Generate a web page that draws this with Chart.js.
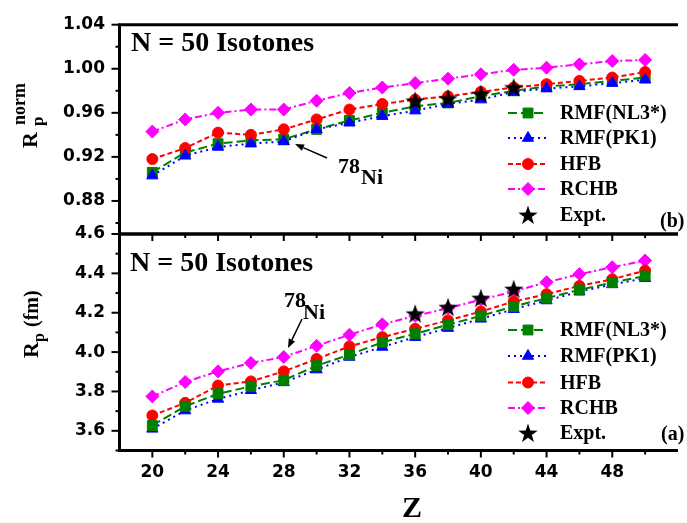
<!DOCTYPE html>
<html>
<head>
<meta charset="utf-8">
<script src="https://cdn.jsdelivr.net/npm/chart.js@4.4.1/dist/chart.umd.min.js"></script>
<style>
html,body{margin:0;padding:0;background:#fff;}
#wrap{position:relative;width:687px;height:523px;overflow:hidden;}
canvas{position:absolute;left:0;top:0;}
</style>
</head>
<body>
<div id="wrap">
<canvas id="cBottom" width="687" height="523"></canvas>
<canvas id="cTop" width="687" height="523"></canvas>
</div>
<script>
// ---------------- data ----------------
const Z = [20,22,24,26,28,30,32,34,36,38,40,42,44,46,48,50];
const Z_EXPT = [36,38,40,42];
const LABELS = ['RMF(NL3*)','RMF(PK1)','HFB','RCHB','Expt.'];

// (b) normalized proton radius
const NORM_NL3  = [0.906,0.924,0.932,0.935,0.936,0.945,0.953,0.960,0.966,0.969,0.975,0.980,0.984,0.986,0.989,0.992];
const NORM_PK1  = [0.903,0.921,0.929,0.932,0.934,0.945,0.951,0.957,0.962,0.968,0.972,0.979,0.982,0.984,0.987,0.990];
const NORM_HFB  = [0.918,0.928,0.942,0.940,0.945,0.954,0.963,0.968,0.972,0.975,0.979,0.983,0.986,0.989,0.992,0.997];
const NORM_RCHB = [0.943,0.954,0.960,0.963,0.963,0.971,0.978,0.983,0.987,0.991,0.995,0.999,1.001,1.004,1.007,1.008];
const NORM_EXPT = [0.971,0.973,0.977,0.983];

// (a) proton radius (fm)
const RP_NL3  = [3.627,3.725,3.788,3.826,3.857,3.931,3.987,4.050,4.093,4.139,4.184,4.232,4.274,4.316,4.353,4.387];
const RP_PK1  = [3.610,3.703,3.762,3.806,3.846,3.911,3.975,4.026,4.076,4.122,4.169,4.218,4.262,4.307,4.344,4.375];
const RP_HFB  = [3.678,3.742,3.830,3.851,3.902,3.965,4.029,4.076,4.118,4.161,4.206,4.257,4.294,4.336,4.370,4.414];
const RP_RCHB = [3.775,3.848,3.902,3.945,3.975,4.032,4.088,4.141,4.184,4.223,4.266,4.308,4.355,4.396,4.431,4.465];
const RP_EXPT = [4.195,4.228,4.274,4.320];

// ticks
const X_MAJOR = [20,24,28,32,36,40,44,48];
const X_MINOR = [22,26,30,34,38,42,46,50];
const YT_MAJOR = [0.88,0.92,0.96,1.00,1.04];
const YT_MINOR = [0.86,0.90,0.94,0.98,1.02];
const YB_MAJOR = [3.6,3.8,4.0,4.2,4.4,4.6];
const YB_MINOR = [3.5,3.7,3.9,4.1,4.3,4.5];

// ---------------- styles ----------------
const star = document.createElement('canvas');
star.width = 22; star.height = 22;
(function(){
  const c = star.getContext('2d');
  const R = 10.2, r = 4.0, cx = 11, cy = 11.8;
  c.beginPath();
  for (let i = 0; i < 10; i++) {
    const a = -Math.PI/2 + i*Math.PI/5;
    const rr = i % 2 ? r : R;
    c.lineTo(cx + rr*Math.cos(a), cy + rr*Math.sin(a));
  }
  c.closePath(); c.fillStyle = '#000'; c.fill();
})();

const STY = [
  {color:'#008000', dash:[9,4],     ps:'rect',     rad:7},
  {color:'#0000ff', dash:[2,4],     ps:'triangle', rad:6.5},
  {color:'#ff0000', dash:[5,3],     ps:'circle',   rad:5.5},
  {color:'#ff00ff', dash:[7,3,2,3], ps:'rectRot',  rad:6.5},
  {color:'#000000', dash:[],        ps:star,       rad:10}
];

function buildDatasets(series, expt, orders) {
  const ds = series.map((vals, i) => ({
    label: LABELS[i],
    data: Z.map((z, k) => ({x: z, y: vals[k]})),
    borderColor: STY[i].color, backgroundColor: STY[i].color,
    borderWidth: 2, borderDash: STY[i].dash, tension: 0,
    pointStyle: STY[i].ps, pointRadius: STY[i].rad,
    pointBackgroundColor: STY[i].color, pointBorderColor: STY[i].color, pointBorderWidth: 1,
    order: orders[i]
  }));
  ds.push({
    label: LABELS[4],
    data: Z_EXPT.map((z, k) => ({x: z, y: expt[k]})),
    showLine: false, pointStyle: star, pointRadius: 10,
    borderColor: '#000', backgroundColor: '#000', order: 0
  });
  return ds;
}

const SERIF = '"Liberation Serif", "Times New Roman", serif';
const SANS = '"DejaVu Sans", sans-serif';

function seg(ctx, x1, y1, x2, y2) { ctx.beginPath(); ctx.moveTo(x1, y1); ctx.lineTo(x2, y2); ctx.stroke(); }

function arrow(ctx, x1, y1, x2, y2) {
  ctx.save();
  ctx.strokeStyle = '#000'; ctx.fillStyle = '#000'; ctx.lineWidth = 1.5;
  const ang = Math.atan2(y2 - y1, x2 - x1);
  const L = 9, W = 3.5;
  const bx = x2 - L*Math.cos(ang), by = y2 - L*Math.sin(ang);
  seg(ctx, x1, y1, bx, by);
  ctx.beginPath();
  ctx.moveTo(x2, y2);
  ctx.lineTo(bx + W*Math.sin(ang), by - W*Math.cos(ang));
  ctx.lineTo(bx - W*Math.sin(ang), by + W*Math.cos(ang));
  ctx.closePath(); ctx.fill();
  ctx.restore();
}

function framePlugin(yMajor, yMinor) {
  return {
    id: 'frame',
    afterDatasetsDraw(chart) {
      const {ctx, chartArea: a} = chart;
      const x = chart.scales.x, y = chart.scales.y;
      ctx.save();
      ctx.strokeStyle = '#000'; ctx.lineWidth = 2;
      X_MAJOR.forEach(v => { const p = x.getPixelForValue(v); seg(ctx, p, a.bottom, p, a.bottom + 7); });
      X_MINOR.forEach(v => { const p = x.getPixelForValue(v); seg(ctx, p, a.bottom, p, a.bottom + 4); });
      yMajor.forEach(v => { const p = y.getPixelForValue(v); seg(ctx, a.left - 8, p, a.left, p); });
      yMinor.forEach(v => { const p = y.getPixelForValue(v); seg(ctx, a.left - 4, p, a.left, p); });
      ctx.lineWidth = 3;
      ctx.beginPath();
      ctx.moveTo(a.right + 2, a.top);
      ctx.lineTo(a.left, a.top);
      ctx.lineTo(a.left, a.bottom);
      ctx.lineTo(a.right + 2, a.bottom);
      ctx.stroke();
      ctx.restore();
    }
  };
}

function legendPlugin(rows) {
  return {
    id: 'olegend',
    afterDraw(chart) {
      const ctx = chart.ctx;
      ctx.save();
      rows.forEach((yy, i) => {
        const st = STY[i];
        if (i < 4) {
          ctx.strokeStyle = st.color; ctx.lineWidth = 2; ctx.setLineDash(st.dash);
          seg(ctx, 508, yy, 547, yy);
          ctx.setLineDash([]);
        }
        ctx.fillStyle = st.color; ctx.strokeStyle = st.color; ctx.lineWidth = 1;
        Chart.helpers.drawPoint(ctx, {pointStyle: st.ps, radius: st.rad, rotation: 0, borderWidth: 1}, 528, yy);
        ctx.fillStyle = '#000';
        ctx.font = 'bold 20px ' + SERIF;
        ctx.textAlign = 'left'; ctx.textBaseline = 'middle';
        ctx.fillText(LABELS[i], 560, yy + 1);
      });
      ctx.restore();
    }
  };
}

function textPlugin(fn) {
  return { id: 'otext', afterDraw(chart) { const ctx = chart.ctx; ctx.save(); fn(ctx); ctx.restore(); } };
}

function makeChart(id, o) {
  return new Chart(document.getElementById(id), {
    type: 'line',
    data: { datasets: o.datasets },
    options: {
      responsive: false, animation: false, devicePixelRatio: 1, events: [],
      layout: { padding: { top: o.top, left: 0, right: 0, bottom: 0 } },
      plugins: { legend: {display: false}, tooltip: {enabled: false} },
      scales: {
        x: {
          type: 'linear', min: 18, max: 51.88,
          grid: {display: false, drawTicks: false}, border: {display: false},
          ticks: {display: o.xLabels, autoSkip: false, maxRotation: 0, padding: 12, color: '#000',
                  font: {family: SANS, weight: 'bold', size: 17}},
          afterBuildTicks: s => { s.ticks = X_MAJOR.map(v => ({value: v})); },
          afterFit: s => { s.height = o.xHeight; }
        },
        y: {
          type: 'linear', position: 'left', min: o.ymin, max: o.ymax,
          grid: {display: false, drawTicks: false}, border: {display: false},
          ticks: {autoSkip: false, padding: 14.5, color: '#000',
                  font: {family: SANS, weight: 'bold', size: 17},
                  callback: v => v.toFixed(o.dec)},
          afterBuildTicks: s => { s.ticks = o.yMajor.map(v => ({value: v})); },
          afterFit: s => { s.width = 119.5; }
        }
      }
    },
    plugins: [framePlugin(o.yMajor, o.yMinor), legendPlugin(o.legendRows), textPlugin(o.text)]
  });
}

// bottom panel (a)
makeChart('cBottom', {
  datasets: buildDatasets([RP_NL3, RP_PK1, RP_HFB, RP_RCHB], RP_EXPT, [1, 3, 2, 4]),
  top: 234, xHeight: 72.5, xLabels: true,
  ymin: 3.5, ymax: 4.6, yMajor: YB_MAJOR, yMinor: YB_MINOR, dec: 1,
  legendRows: [330, 356, 382.5, 408, 433],
  text(ctx) {
    ctx.fillStyle = '#000';
    ctx.textAlign = 'left'; ctx.textBaseline = 'alphabetic';
    ctx.font = 'bold 28px ' + SERIF;
    ctx.fillText('N = 50 Isotones', 130, 271);
    ctx.font = 'bold 22px ' + SERIF;
    ctx.fillText('78', 284, 307);
    ctx.fillText('Ni', 303, 319);
    arrow(ctx, 302, 319, 288, 348);
    ctx.font = 'bold 20px ' + SERIF;
    ctx.fillText('(a)', 661, 440);
    ctx.font = 'bold 30px ' + SERIF;
    ctx.textAlign = 'center';
    ctx.fillText('Z', 412, 517);
    // y title
    ctx.save();
    ctx.translate(38, 358); ctx.rotate(-Math.PI/2);
    ctx.textAlign = 'left';
    ctx.font = 'bold 22px ' + SERIF; ctx.fillText('R', 0, 0);
    ctx.font = 'bold 16px ' + SERIF; ctx.fillText('p', 16, 6);
    ctx.font = 'bold 20px ' + SERIF; ctx.fillText('(fm)', 31, 0);
    ctx.restore();
  }
});

// top panel (b)
makeChart('cTop', {
  datasets: buildDatasets([NORM_NL3, NORM_PK1, NORM_HFB, NORM_RCHB], NORM_EXPT, [3, 1, 2, 4]),
  top: 15, xHeight: 289, xLabels: false,
  ymin: 0.85, ymax: 1.04, yMajor: YT_MAJOR, yMinor: YT_MINOR, dec: 2,
  legendRows: [113, 138, 164, 189, 215],
  text(ctx) {
    ctx.fillStyle = '#000';
    ctx.textAlign = 'left'; ctx.textBaseline = 'alphabetic';
    ctx.font = 'bold 28px ' + SERIF;
    ctx.fillText('N = 50 Isotones', 131, 51);
    ctx.font = 'bold 22px ' + SERIF;
    ctx.fillText('78', 338, 173);
    ctx.fillText('Ni', 361, 184);
    arrow(ctx, 327, 158, 295, 144);
    ctx.font = 'bold 20px ' + SERIF;
    ctx.fillText('(b)', 660, 227);
    // y title
    ctx.save();
    ctx.translate(37, 148); ctx.rotate(-Math.PI/2);
    ctx.textAlign = 'left';
    ctx.font = 'bold 22px ' + SERIF; ctx.fillText('R', 0, 0);
    ctx.font = 'bold 17px ' + SERIF; ctx.fillText('p', 22, 6);
    ctx.font = 'bold 18px ' + SERIF; ctx.fillText('norm', 23, -12);
    ctx.restore();
  }
});
</script>
</body>
</html>
